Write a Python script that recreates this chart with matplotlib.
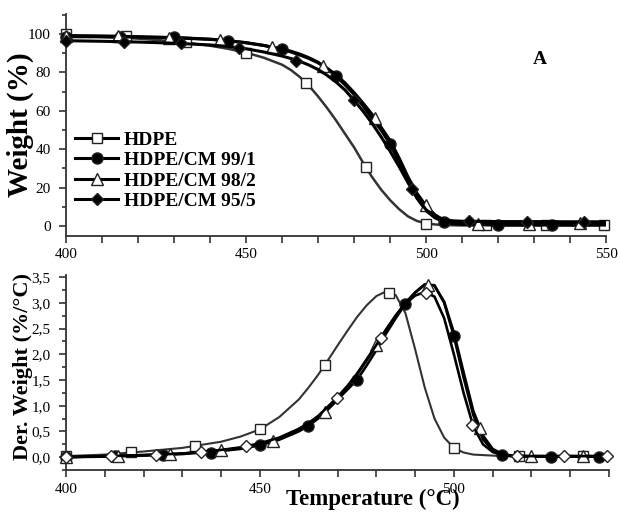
import matplotlib
matplotlib.use('Agg')
import matplotlib.pyplot as plt
from matplotlib.ticker import MultipleLocator, FuncFormatter
from matplotlib.lines import Line2D

plt.rcParams['font.family'] = ['Liberation Serif', 'DejaVu Serif']

names = ['HDPE', 'HDPE/CM 99/1', 'HDPE/CM 98/2', 'HDPE/CM 95/5']

# --- TGA curves (weight %) ---
tga_temp = [400, 410, 420, 430, 440, 445, 450, 455, 460, 462.5, 465, 467.5, 470, 472.5,
            475, 477.5, 480, 482.5, 485, 487.5, 490, 492.5, 495, 497.5, 500, 502.5, 505,
            507.5, 510, 515, 520, 530, 540, 550]
tga_hdpe = [99.0, 98.5, 97.6, 96.2, 93.9, 92.3, 90.3, 87.6, 84.0, 81.2, 77.5, 73.0, 67.5, 61.5,
            55.0, 48.0, 41.0, 33.0, 25.5, 19.0, 13.5, 8.8, 5.0, 2.6, 1.4, 0.8, 0.5,
            0.4, 0.3, 0.3, 0.3, 0.3, 0.3, 0.3]
tga_cm991 = [98.6, 98.5, 98.4, 98.2, 97.3, 96.5, 95.4, 94.0, 92.2, 91.0, 89.5, 87.6, 85.3, 82.0,
             78.0, 73.5, 68.5, 62.5, 56.0, 50.0, 42.7, 33.5, 23.5, 14.5, 8.0, 4.2, 2.2,
             1.2, 0.8, 0.6, 0.5, 0.5, 0.5, 0.5]
tga_cm982 = [99.2, 99.0, 98.6, 98.0, 97.2, 96.5, 95.5, 94.0, 92.0, 90.6, 89.0, 87.2, 85.0, 82.2,
             78.8, 74.5, 69.5, 64.0, 58.2, 51.5, 44.5, 35.5, 25.5, 17.0, 10.5, 5.8, 3.0,
             1.8, 1.3, 1.1, 1.0, 1.0, 1.0, 1.0]
tga_cm955 = [96.5, 96.2, 95.8, 95.2, 94.3, 93.5, 92.3, 90.6, 88.5, 87.2, 85.7, 83.8, 81.5, 78.5,
             75.0, 70.8, 65.5, 59.8, 53.5, 46.5, 39.0, 31.0, 22.5, 14.5, 8.5, 5.0, 3.3,
             2.7, 2.5, 2.4, 2.3, 2.3, 2.2, 2.2]

# TGA marker points
tga_mk_hdpe_t = [400, 416.7, 433.3, 450, 466.7, 483.3, 500, 516.7, 533.3, 549.5]
tga_mk_hdpe_w = [100, 99.0, 95.8, 90.3, 74.3, 30.5, 1.0, 0.3, 0.3, 0.3]
tga_mk_991_t = [400, 415, 430, 445, 460, 475, 490, 505, 520, 535]
tga_mk_991_w = [98.6, 98.45, 98.2, 96.5, 92.2, 78.0, 42.7, 2.2, 0.5, 0.5]
tga_mk_982_t = [400, 414.3, 428.6, 442.9, 457.1, 471.4, 485.7, 500, 514.3, 528.6, 542.9]
tga_mk_982_w = [99.2, 98.9, 98.1, 96.8, 93.2, 83.4, 56.4, 11.0, 1.1, 1.0, 1.5]
tga_mk_955_t = [400, 416, 432, 448, 464, 480, 496, 512, 528, 544]
tga_mk_955_w = [96.5, 95.9, 95.1, 92.8, 86.0, 65.5, 19.3, 2.5, 2.3, 2.2]

# --- DTG curves (%/°C) ---
dtg_temp = [400, 410, 420, 430, 440, 445, 450, 455, 460, 462.5, 465, 467.5, 470, 472.5,
            475, 477.5, 480, 482.5, 485, 487.5, 490, 492.5, 495, 497.5, 500, 502.5, 505,
            507.5, 510, 512.5, 515, 520, 530, 540]
dtg_hdpe = [0.02, 0.05, 0.11, 0.18, 0.30, 0.40, 0.54, 0.78, 1.12, 1.35, 1.60, 1.88, 2.17, 2.45,
            2.72, 2.95, 3.13, 3.22, 3.15, 2.80, 2.10, 1.35, 0.75, 0.38, 0.18, 0.09, 0.05,
            0.04, 0.03, 0.02, 0.02, 0.02, 0.02, 0.02]
dtg_cm991 = [0.0, 0.01, 0.03, 0.06, 0.12, 0.16, 0.23, 0.34, 0.50, 0.61, 0.75, 0.93, 1.12, 1.31,
             1.50, 1.78, 2.08, 2.40, 2.70, 2.98, 3.20, 3.36, 3.34, 3.00, 2.35, 1.55, 0.82,
             0.35, 0.13, 0.05, 0.02, 0.01, 0.01, 0.01]
dtg_cm982 = [0.0, 0.02, 0.04, 0.07, 0.13, 0.18, 0.24, 0.35, 0.52, 0.64, 0.77, 0.93, 1.12, 1.35,
             1.60, 1.88, 2.18, 2.47, 2.75, 3.00, 3.20, 3.35, 3.33, 3.02, 2.42, 1.65, 0.90,
             0.42, 0.16, 0.06, 0.03, 0.02, 0.02, 0.02]
dtg_cm955 = [0.0, 0.02, 0.04, 0.07, 0.14, 0.19, 0.27, 0.38, 0.55, 0.66, 0.80, 0.98, 1.17, 1.38,
             1.62, 1.90, 2.18, 2.48, 2.75, 2.98, 3.14, 3.21, 3.12, 2.70, 2.00, 1.25, 0.60,
             0.25, 0.10, 0.04, 0.02, 0.02, 0.02, 0.02]

# DTG marker points
dtg_mk_hdpe_t = [400, 416.7, 433.3, 450, 466.7, 483.3, 500, 516.7, 533.3]
dtg_mk_hdpe_d = [0.02, 0.10, 0.21, 0.54, 1.79, 3.20, 0.18, 0.02, 0.02]
dtg_mk_991_t = [400, 412.5, 425, 437.5, 450, 462.5, 475, 487.5, 500, 512.5, 525, 537.5]
dtg_mk_991_d = [0.0, 0.015, 0.045, 0.09, 0.23, 0.61, 1.50, 2.98, 2.35, 0.05, 0.01, 0.01]
dtg_mk_982_t = [400, 413.3, 426.7, 440, 453.3, 466.7, 480, 493.3, 506.7, 520, 533.3]
dtg_mk_982_d = [0.0, 0.03, 0.055, 0.13, 0.31, 0.87, 2.18, 3.35, 0.57, 0.02, 0.02]
dtg_mk_955_t = [400, 411.6, 423.2, 434.8, 446.4, 469.8, 481.2, 492.8, 504.6, 516.4, 528.4, 539.6]
dtg_mk_955_d = [0.0, 0.02, 0.05, 0.10, 0.21, 1.15, 2.32, 3.20, 0.62, 0.02, 0.02, 0.02]

tga_lines = [tga_hdpe, tga_cm991, tga_cm982, tga_cm955]
tga_marks = [(tga_mk_hdpe_t, tga_mk_hdpe_w), (tga_mk_991_t, tga_mk_991_w),
             (tga_mk_982_t, tga_mk_982_w), (tga_mk_955_t, tga_mk_955_w)]
dtg_lines = [dtg_hdpe, dtg_cm991, dtg_cm982, dtg_cm955]
dtg_marks = [(dtg_mk_hdpe_t, dtg_mk_hdpe_d), (dtg_mk_991_t, dtg_mk_991_d),
             (dtg_mk_982_t, dtg_mk_982_d), (dtg_mk_955_t, dtg_mk_955_d)]

# styles
line_colors = ['#333333', 'black', 'black', 'black']
line_widths = [1.8, 2.2, 2.2, 2.2]
markers = ['s', 'o', '^', 'D']
sizes = [7, 8, 8.5, 6.5]
top_faces = ['white', 'black', 'white', 'black']
bot_faces = ['white', 'black', 'white', 'white']

fig = plt.figure(figsize=(6.2, 5.19), dpi=100)
ax1 = fig.add_axes([0.1065, 0.5453, 0.871, 0.4277])
ax2 = fig.add_axes([0.1065, 0.0944, 0.8758, 0.3757])

for i in range(4):
    z = 2 + 2 * i
    ax1.plot(tga_temp, tga_lines[i], color=line_colors[i], lw=line_widths[i], zorder=z)
    ax1.plot(tga_marks[i][0], tga_marks[i][1], ls='none', marker=markers[i], ms=sizes[i],
             mfc=top_faces[i], mec='#222222', mew=1.0, zorder=z + 1, clip_on=False)
    ax2.plot(dtg_temp, dtg_lines[i], color=line_colors[i], lw=line_widths[i] - 0.3, zorder=z)
    ax2.plot(dtg_marks[i][0], dtg_marks[i][1], ls='none', marker=markers[i], ms=sizes[i],
             mfc=bot_faces[i], mec='#222222', mew=1.0, zorder=z + 1, clip_on=False)

for ax in (ax1, ax2):
    for side in ('top', 'right'):
        ax.spines[side].set_visible(False)
    for side in ('left', 'bottom'):
        ax.spines[side].set_color('#333333')
        ax.spines[side].set_linewidth(1.3)
    ax.tick_params(which='both', colors='#333333', width=1.2, labelsize=11,
                   labelcolor='black')
    ax.tick_params(axis='y', which='major', length=5, pad=6)
    ax.tick_params(axis='y', which='minor', length=3)
    ax.tick_params(axis='x', which='both', length=5, pad=4)
    ax.xaxis.set_major_locator(MultipleLocator(50))
    ax.xaxis.set_minor_locator(MultipleLocator(10))

ax1.set_xlim(400, 550)
ax1.set_ylim(-5.2, 110.4)
ax1.yaxis.set_major_locator(MultipleLocator(20))
ax1.yaxis.set_minor_locator(MultipleLocator(10))
ax1.set_ylabel('Weight (%)', fontsize=21, fontweight='bold')
ax1.yaxis.set_label_coords(-0.059, 0.5)

ax2.set_xlim(400, 540)
ax2.set_ylim(-0.25, 3.54)
ax2.yaxis.set_major_locator(MultipleLocator(0.5))
ax2.yaxis.set_minor_locator(MultipleLocator(0.25))
ax2.yaxis.set_major_formatter(FuncFormatter(lambda v, _: f'{v:.1f}'.replace('.', ',')))
ax2.set_ylabel('Der. Weight (%/°C)', fontsize=16, fontweight='bold')
ax2.yaxis.set_label_coords(-0.061, 0.533)
ax2.set_xlabel('Temperature (°C)', fontsize=16.5, fontweight='bold')
ax2.xaxis.set_label_coords(0.565, -0.095)

handles = [Line2D([], [], color='black', lw=2.2, marker=markers[i], ms=sizes[i],
                  mfc=top_faces[i], mec='#222222', mew=1.0) for i in range(4)]
ax1.legend(handles, names, loc='center left', bbox_to_anchor=(0.017, 0.295),
           frameon=False, prop={'weight': 'bold', 'size': 14}, handlelength=2.2,
           handletextpad=0.3, labelspacing=0.15, borderpad=0, borderaxespad=0)

fig.text(540 / 620, 1 - 60 / 519, 'A', ha='center', va='center', fontsize=14,
         fontweight='bold')

fig.savefig('out.png', dpi=100)
